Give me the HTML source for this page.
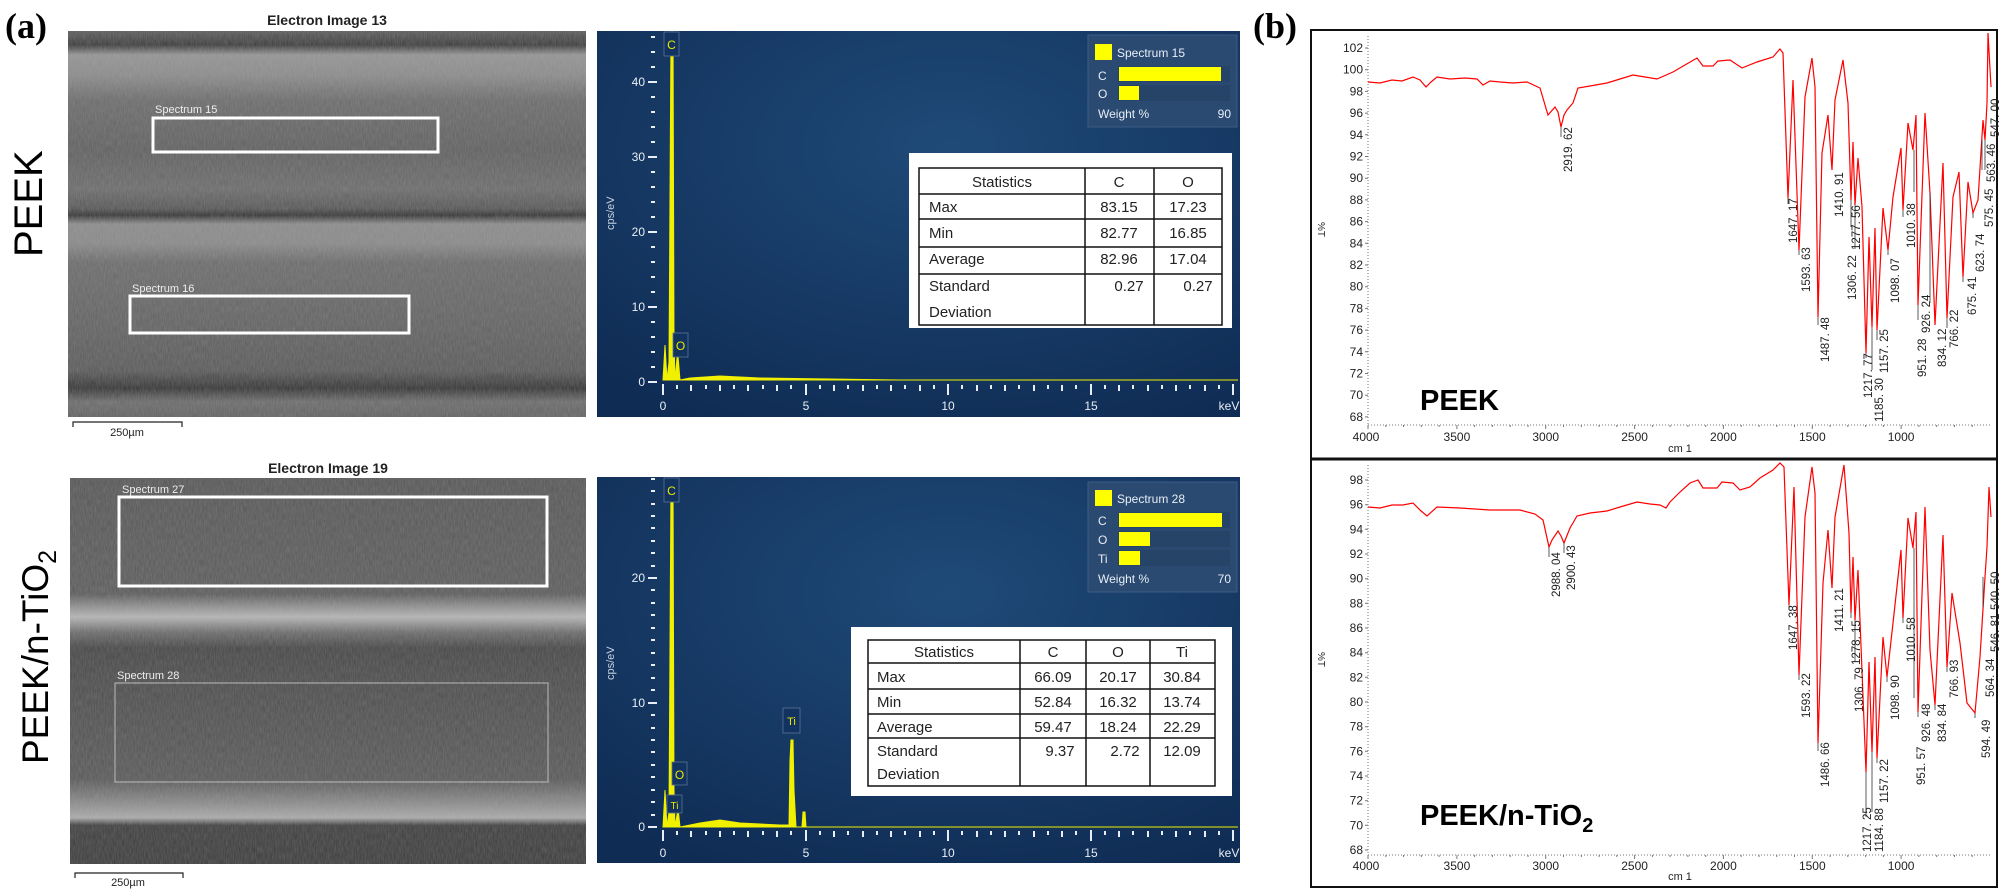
<!DOCTYPE html>
<html><head><meta charset="utf-8"><style>
html,body{margin:0;padding:0;background:#fff;}
svg{display:block;}
text{font-family:"Liberation Sans",sans-serif;}
</style></head><body>
<svg width="2000" height="892" viewBox="0 0 2000 892" xmlns="http://www.w3.org/2000/svg">
<defs>
<linearGradient id="sem1" x1="0" y1="0" x2="0" y2="1">
<stop offset="0" stop-color="#5a5a5a"/><stop offset="0.036" stop-color="#3a3a3a"/><stop offset="0.062" stop-color="#939393"/><stop offset="0.114" stop-color="#8a8a8a"/><stop offset="0.18" stop-color="#6a6a6a"/><stop offset="0.308" stop-color="#5e5e5e"/><stop offset="0.41" stop-color="#6a6a6a"/><stop offset="0.46" stop-color="#555"/><stop offset="0.477" stop-color="#333"/><stop offset="0.5" stop-color="#8a8a8a"/><stop offset="0.55" stop-color="#888"/><stop offset="0.6" stop-color="#6a6a6a"/><stop offset="0.77" stop-color="#606060"/><stop offset="0.88" stop-color="#585858"/><stop offset="0.925" stop-color="#333"/><stop offset="0.96" stop-color="#6a6a6a"/><stop offset="1" stop-color="#606060"/>
</linearGradient>
<linearGradient id="sem2" x1="0" y1="0" x2="0" y2="1">
<stop offset="0" stop-color="#555"/><stop offset="0.3" stop-color="#5a5a5a"/><stop offset="0.33" stop-color="#8a8a8a"/><stop offset="0.36" stop-color="#b5b5b5"/><stop offset="0.4" stop-color="#6a6a6a"/><stop offset="0.44" stop-color="#444"/><stop offset="0.52" stop-color="#4a4a4a"/><stop offset="0.78" stop-color="#575757"/><stop offset="0.84" stop-color="#888"/><stop offset="0.88" stop-color="#aaa"/><stop offset="0.9" stop-color="#3c3c3c"/><stop offset="1" stop-color="#3a3a3a"/>
</linearGradient>
<radialGradient id="eds" cx="0.55" cy="0.3" r="0.8">
<stop offset="0" stop-color="#1f4a78"/><stop offset="1" stop-color="#0f2c54"/>
</radialGradient>
<filter id="noise" x="0" y="0" width="1" height="1"><feTurbulence type="fractalNoise" baseFrequency="0.9 0.15" numOctaves="2" seed="3"/><feColorMatrix values="0 0 0 0 0.5  0 0 0 0 0.5  0 0 0 0 0.5  0 0 0 0.3 0"/></filter>
</defs>

<text x="5" y="38" font-weight="bold" font-size="36" style="font-family:'Liberation Serif',serif">(a)</text>
<text transform="translate(42,257) rotate(-90)" font-size="40">PEEK</text>
<text transform="translate(48,764) rotate(-90)" font-size="37">PEEK/n-TiO<tspan font-size="25" dy="8">2</tspan></text>

<!-- SEM 1 -->
<text x="327" y="25" font-size="14" font-weight="bold" text-anchor="middle" fill="#222">Electron Image 13</text>
<rect x="68" y="31" width="518" height="386" fill="url(#sem1)"/>
<rect x="68" y="31" width="518" height="386" fill="#000" filter="url(#noise)"/>
<rect x="153" y="118" width="285" height="34" fill="none" stroke="#fff" stroke-width="3"/>
<text x="155" y="113" font-size="11" fill="#eee">Spectrum 15</text>
<rect x="130" y="296" width="279" height="37" fill="none" stroke="#fff" stroke-width="3"/>
<text x="132" y="292" font-size="11" fill="#eee">Spectrum 16</text>
<path d="M73,427 V422 H182 V427" fill="none" stroke="#222" stroke-width="1.2"/>
<text x="127" y="436" font-size="11" text-anchor="middle" fill="#222">250µm</text>

<!-- SEM 2 -->
<text x="328" y="473" font-size="14" font-weight="bold" text-anchor="middle" fill="#222">Electron Image 19</text>
<rect x="70" y="478" width="516" height="386" fill="url(#sem2)"/>
<rect x="70" y="478" width="516" height="386" fill="#000" filter="url(#noise)"/>
<rect x="119" y="497" width="428" height="89" fill="none" stroke="#fff" stroke-width="3"/>
<text x="122" y="493" font-size="11" fill="#eee">Spectrum 27</text>
<rect x="115" y="683" width="433" height="99" fill="none" stroke="#bbb" stroke-width="1"/>
<text x="117" y="679" font-size="11" fill="#eee">Spectrum 28</text>
<path d="M75,878 V873 H183 V878" fill="none" stroke="#222" stroke-width="1.2"/>
<text x="128" y="886" font-size="11" text-anchor="middle" fill="#222">250µm</text>

<!-- EDS 1 -->
<rect x="597" y="31" width="643" height="386" fill="url(#eds)"/>
<text transform="translate(614,230) rotate(-90)" font-size="11" fill="#c8d4e4">cps/eV</text>
<g fill="#e8eef6" font-size="12" text-anchor="end">
<text x="645" y="86">40</text><text x="645" y="161">30</text><text x="645" y="236">20</text><text x="645" y="311">10</text><text x="645" y="386">0</text>
</g>
<g stroke="#e8eef6" stroke-width="2">
<path d="M648,82h9M648,157h9M648,232h9M648,307h9M648,382h9"/>
<path d="M651,37h4M651,52h4M651,67h4M651,97h4M651,112h4M651,127h4M651,142h4M651,172h4M651,187h4M651,202h4M651,217h4M651,247h4M651,262h4M651,277h4M651,292h4M651,322h4M651,337h4M651,352h4M651,367h4"/>
<path d="M663,384v11M806,384v11M948,384v11M1091,384v11M1233,384v11"/>
<path d="M677,385v4M691,385v6M706,385v4M720,385v6M734,385v4M748,385v6M763,385v4M777,385v6M791,385v4M820,385v4M834,385v6M848,385v4M863,385v6M877,385v4M891,385v6M905,385v4M920,385v6M934,385v4M962,385v4M977,385v6M991,385v4M1005,385v6M1019,385v4M1034,385v6M1048,385v4M1062,385v6M1076,385v4M1105,385v4M1119,385v6M1133,385v4M1148,385v6M1162,385v4M1176,385v6M1190,385v4M1205,385v6M1219,385v4"/>
</g>
<g fill="#e8eef6" font-size="12" text-anchor="middle">
<text x="663" y="410">0</text><text x="806" y="410">5</text><text x="948" y="410">10</text><text x="1091" y="410">15</text><text x="1229" y="410">keV</text>
</g>
<path d="M663,380 L665,345 L667,380 L669,362 L671,32 L673,32 L674,340 L675,380 L677,358 L678,356 L680,380 L690,378 L720,376 L760,378 L900,380 L1238,380 Z" fill="#f0f000" stroke="#f0f000" stroke-width="1"/>
<rect x="664" y="32" width="15" height="24" fill="#123260" stroke="#5a7494" stroke-width="0.8"/>
<text x="671.5" y="49" font-size="12" fill="#e8e800" text-anchor="middle">C</text>
<rect x="673" y="333" width="15" height="24" fill="#123260" stroke="#5a7494" stroke-width="0.8"/>
<text x="680.5" y="350" font-size="12" fill="#e8e800" text-anchor="middle">O</text>
<rect x="1088" y="35" width="149" height="92" fill="#2a4a72" stroke="#3d5c84"/>
<rect x="1095" y="44" width="17" height="16" fill="#ffff00"/>
<text x="1117" y="57" font-size="12" fill="#e8eef6">Spectrum 15</text>
<text x="1098" y="80" font-size="12" fill="#e8eef6">C</text>
<text x="1098" y="98" font-size="12" fill="#e8eef6">O</text>
<rect x="1118" y="66" width="112" height="16" fill="#254468"/><rect x="1118" y="85" width="112" height="16" fill="#254468"/>
<rect x="1119" y="67" width="102" height="14" fill="#ffff00"/>
<rect x="1119" y="86" width="20" height="14" fill="#ffff00"/>
<text x="1098" y="118" font-size="12" fill="#e8eef6">Weight %</text>
<text x="1231" y="118" font-size="12" fill="#e8eef6" text-anchor="end">90</text>
<rect x="909" y="153" width="323" height="175" fill="#fff"/>
<g fill="none" stroke="#111" stroke-width="1.5">
<rect x="919" y="168" width="303" height="157"/>
<path d="M919,194H1222M919,219H1222M919,247H1222M919,274H1222M1085,168V325M1154,168V325"/>
</g>
<g font-size="15" fill="#222">
<text x="1002" y="187" text-anchor="middle">Statistics</text><text x="1119" y="187" text-anchor="middle">C</text><text x="1188" y="187" text-anchor="middle">O</text>
<text x="929" y="212">Max</text><text x="1119" y="212" text-anchor="middle">83.15</text><text x="1188" y="212" text-anchor="middle">17.23</text>
<text x="929" y="238">Min</text><text x="1119" y="238" text-anchor="middle">82.77</text><text x="1188" y="238" text-anchor="middle">16.85</text>
<text x="929" y="264">Average</text><text x="1119" y="264" text-anchor="middle">82.96</text><text x="1188" y="264" text-anchor="middle">17.04</text>
<text x="929" y="291">Standard</text><text x="1129" y="291" text-anchor="middle">0.27</text><text x="1198" y="291" text-anchor="middle">0.27</text>
<text x="929" y="317">Deviation</text>
</g>

<!-- EDS 2 -->
<rect x="597" y="477" width="643" height="386" fill="url(#eds)"/>
<text transform="translate(614,680) rotate(-90)" font-size="11" fill="#c8d4e4">cps/eV</text>
<g fill="#e8eef6" font-size="12" text-anchor="end">
<text x="645" y="582">20</text><text x="645" y="707">10</text><text x="645" y="831">0</text>
</g>
<g stroke="#e8eef6" stroke-width="2">
<path d="M648,578h9M648,703h9M648,827h9"/>
<path d="M651,479h4M651,491h4M651,504h4M651,516h4M651,528h4M651,541h4M651,553h4M651,566h4M651,590h4M651,603h4M651,615h4M651,628h4M651,640h4M651,653h4M651,665h4M651,678h4M651,690h4M651,715h4M651,728h4M651,740h4M651,752h4M651,765h4M651,777h4M651,790h4M651,802h4M651,815h4"/>
<path d="M663,830v11M806,830v11M948,830v11M1091,830v11M1233,830v11"/>
<path d="M677,831v4M691,831v6M706,831v4M720,831v6M734,831v4M748,831v6M763,831v4M777,831v6M791,831v4M820,831v4M834,831v6M848,831v4M863,831v6M877,831v4M891,831v6M905,831v4M920,831v6M934,831v4M962,831v4M977,831v6M991,831v4M1005,831v6M1019,831v4M1034,831v6M1048,831v4M1062,831v6M1076,831v4M1105,831v4M1119,831v6M1133,831v4M1148,831v6M1162,831v4M1176,831v6M1190,831v4M1205,831v6M1219,831v4"/>
</g>
<g fill="#e8eef6" font-size="12" text-anchor="middle">
<text x="663" y="857">0</text><text x="806" y="857">5</text><text x="948" y="857">10</text><text x="1091" y="857">15</text><text x="1229" y="857">keV</text>
</g>
<path d="M663,827 L665,790 L667,827 L669,812 L671,480 L673,480 L674,790 L675,827 L677,815 L678,808 L680,827 L690,825 L700,823 L720,820 L740,823 L780,825 L789,825 L790,760 L791,740 L793,740 L794,790 L796,827 L802,827 L803,812 L805,812 L806,827 L900,827 L1238,827 Z" fill="#f0f000" stroke="#f0f000" stroke-width="1"/>
<rect x="664" y="478" width="15" height="24" fill="#123260" stroke="#5a7494" stroke-width="0.8"/>
<text x="671.5" y="495" font-size="12" fill="#e8e800" text-anchor="middle">C</text>
<rect x="672" y="762" width="15" height="23" fill="#123260" stroke="#5a7494" stroke-width="0.8"/>
<text x="679.5" y="779" font-size="12" fill="#e8e800" text-anchor="middle">O</text>
<rect x="667" y="795" width="15" height="18" fill="#123260" stroke="#5a7494" stroke-width="0.8"/>
<text x="674.5" y="809" font-size="10" fill="#e8e800" text-anchor="middle">Ti</text>
<rect x="783" y="708" width="17" height="25" fill="#123260" stroke="#5a7494" stroke-width="0.8"/>
<text x="791.5" y="725" font-size="11" fill="#e8e800" text-anchor="middle">Ti</text>
<rect x="1088" y="482" width="149" height="110" fill="#2a4a72" stroke="#3d5c84"/>
<rect x="1095" y="490" width="17" height="16" fill="#ffff00"/>
<text x="1117" y="503" font-size="12" fill="#e8eef6">Spectrum 28</text>
<text x="1098" y="525" font-size="12" fill="#e8eef6">C</text>
<text x="1098" y="544" font-size="12" fill="#e8eef6">O</text>
<text x="1098" y="563" font-size="12" fill="#e8eef6">Ti</text>
<rect x="1118" y="512" width="112" height="16" fill="#254468"/><rect x="1118" y="531" width="112" height="16" fill="#254468"/><rect x="1118" y="550" width="112" height="16" fill="#254468"/>
<rect x="1119" y="513" width="103" height="14" fill="#ffff00"/>
<rect x="1119" y="532" width="31" height="14" fill="#ffff00"/>
<rect x="1119" y="551" width="21" height="14" fill="#ffff00"/>
<text x="1098" y="583" font-size="12" fill="#e8eef6">Weight %</text>
<text x="1231" y="583" font-size="12" fill="#e8eef6" text-anchor="end">70</text>
<rect x="851" y="627" width="381" height="169" fill="#fff"/>
<g fill="none" stroke="#111" stroke-width="1.5">
<rect x="868" y="640" width="347" height="146"/>
<path d="M868,663H1215M868,689H1215M868,714H1215M868,738H1215M1020,640V786M1086,640V786M1150,640V786"/>
</g>
<g font-size="15" fill="#222">
<text x="944" y="657" text-anchor="middle">Statistics</text><text x="1053" y="657" text-anchor="middle">C</text><text x="1118" y="657" text-anchor="middle">O</text><text x="1182" y="657" text-anchor="middle">Ti</text>
<text x="877" y="682">Max</text><text x="1053" y="682" text-anchor="middle">66.09</text><text x="1118" y="682" text-anchor="middle">20.17</text><text x="1182" y="682" text-anchor="middle">30.84</text>
<text x="877" y="707">Min</text><text x="1053" y="707" text-anchor="middle">52.84</text><text x="1118" y="707" text-anchor="middle">16.32</text><text x="1182" y="707" text-anchor="middle">13.74</text>
<text x="877" y="732">Average</text><text x="1053" y="732" text-anchor="middle">59.47</text><text x="1118" y="732" text-anchor="middle">18.24</text><text x="1182" y="732" text-anchor="middle">22.29</text>
<text x="877" y="756">Standard</text><text x="1060" y="756" text-anchor="middle">9.37</text><text x="1125" y="756" text-anchor="middle">2.72</text><text x="1182" y="756" text-anchor="middle">12.09</text>
<text x="877" y="779">Deviation</text>
</g>

<!-- (b) -->
<text x="1253" y="38" font-weight="bold" font-size="36" style="font-family:'Liberation Serif',serif">(b)</text>
<rect x="1311" y="30" width="686" height="857" fill="#fff" stroke="#111" stroke-width="2"/>
<line x1="1311" y1="459" x2="1997" y2="459" stroke="#111" stroke-width="3"/>

<g stroke="#777" stroke-width="1">
<line x1="1368" y1="36" x2="1368" y2="425" stroke-dasharray="1,2"/>
<line x1="1368" y1="425" x2="1992" y2="425" stroke-dasharray="1,2"/>
<path d="M1365,48h3M1365,69.7h3M1365,91.4h3M1365,113.1h3M1365,134.8h3M1365,156.5h3M1365,178.2h3M1365,199.9h3M1365,221.6h3M1365,243.3h3M1365,265h3M1365,286.7h3M1365,308.4h3M1365,330.1h3M1365,351.8h3M1365,373.5h3M1365,395.2h3M1365,416.9h3"/>
<path d="M1368,425v4M1385.8,425v2M1403.5,425v2M1421.3,425v2M1439.1,425v2M1456.9,425v4M1474.6,425v2M1492.4,425v2M1510.2,425v2M1528,425v2M1545.7,425v4M1563.5,425v2M1581.3,425v2M1599.1,425v2M1616.8,425v2M1634.6,425v4M1652.4,425v2M1670.1,425v2M1687.9,425v2M1705.7,425v2M1723.4,425v4M1741.2,425v2M1759,425v2M1776.8,425v2M1794.5,425v2M1812.3,425v4M1830.1,425v2M1847.8,425v2M1865.6,425v2M1883.4,425v2M1901.1,425v4M1918.9,425v2M1936.7,425v2M1954.5,425v2M1972.2,425v2"/>
</g>
<g font-size="12" fill="#222" text-anchor="end">
<text x="1363" y="52">102</text><text x="1363" y="73.7">100</text><text x="1363" y="95.4">98</text><text x="1363" y="117.1">96</text><text x="1363" y="138.8">94</text><text x="1363" y="160.5">92</text><text x="1363" y="182.2">90</text><text x="1363" y="203.9">88</text><text x="1363" y="225.6">86</text><text x="1363" y="247.3">84</text><text x="1363" y="269">82</text><text x="1363" y="290.7">80</text><text x="1363" y="312.4">78</text><text x="1363" y="334.1">76</text><text x="1363" y="355.8">74</text><text x="1363" y="377.5">72</text><text x="1363" y="399.2">70</text><text x="1363" y="420.9">68</text>
</g>
<g font-size="12" fill="#222" text-anchor="middle">
<text x="1366" y="441">4000</text><text x="1456.9" y="441">3500</text><text x="1545.7" y="441">3000</text><text x="1634.6" y="441">2500</text><text x="1723.4" y="441">2000</text><text x="1812.3" y="441">1500</text><text x="1901.1" y="441">1000</text>
<text x="1680" y="452" font-size="11">cm 1</text>
</g>
<text transform="translate(1318,222) rotate(90)" font-size="10" fill="#222">%T</text>
<text x="1420" y="410" font-size="29" font-weight="bold" fill="#000">PEEK</text>
<polyline fill="none" stroke="#f00" stroke-width="1.2" points="1368,82 1380,83 1392,80 1402,81 1413,77 1420,80 1426,87 1431,82 1437,77 1450,79 1465,78 1477,79 1483,85 1490,81 1500,82 1513,83 1527,82 1540,88 1548,115 1555,107 1558,112 1561,127 1564,115 1567,110 1573,103 1578,88 1590,86 1607,83 1620,79 1633,75 1645,77 1657,79 1673,72 1685,65 1697,58 1703,66 1713,66 1718,61 1730,60 1736,64 1742,68 1757,62 1773,57 1779,50 1780,49 1783,53 1788,198 1793,80 1799,250 1805,97 1812,58 1815,87 1818,317 1822,153 1828,115 1832,170 1835,100 1843,60 1848,103 1851,200 1853,142 1855,205 1858,158 1862,207 1866,353 1869,237 1872,327 1875,228 1877,330 1883,208 1888,250 1893,197 1901,148 1903,210 1908,123 1913,150 1916,115 1918,305 1925,113 1930,193 1935,325 1943,163 1947,318 1953,197 1959,172 1963,277 1968,182 1973,213 1978,200 1983,120 1985,140 1987,103 1988,33 1991,87"/>
<g stroke="#333" stroke-width="0.8">
<path d="M1561,127v10M1788,198v6M1799,250v5M1818,317v8M1851,200v27M1855,205v44M1866,353v5M1872,327v43M1877,330v10M1888,250v5M1903,210v7M1914,150v42M1918,305v15M1930,193v110M1947,318v10M1963,277v5M1973,213v5M1982,140v30M1985,140v30"/>
</g>
<g font-size="11.5" fill="#222">
<text transform="translate(1572,172) rotate(-90)">2919. 62</text>
<text transform="translate(1797,243) rotate(-90)">1647. 17</text>
<text transform="translate(1810,292) rotate(-90)">1593. 63</text>
<text transform="translate(1829,362) rotate(-90)">1487. 48</text>
<text transform="translate(1843,217) rotate(-90)">1410. 91</text>
<text transform="translate(1860,250) rotate(-90)">1277. 56</text>
<text transform="translate(1856,300) rotate(-90)">1306. 22</text>
<text transform="translate(1872,398) rotate(-90)">1217. 77</text>
<text transform="translate(1883,422) rotate(-90)">1185. 30</text>
<text transform="translate(1888,373) rotate(-90)">1157. 25</text>
<text transform="translate(1899,303) rotate(-90)">1098. 07</text>
<text transform="translate(1915,248) rotate(-90)">1010. 38</text>
<text transform="translate(1926,377) rotate(-90)">951. 28</text>
<text transform="translate(1930,333) rotate(-90)">926. 24</text>
<text transform="translate(1946,367) rotate(-90)">834. 12</text>
<text transform="translate(1958,348) rotate(-90)">766. 22</text>
<text transform="translate(1976,315) rotate(-90)">675. 41</text>
<text transform="translate(1984,272) rotate(-90)">623. 74</text>
<text transform="translate(1993,227) rotate(-90)">575. 45</text>
<text transform="translate(1995,182) rotate(-90)">563. 46</text>
<text transform="translate(1999,137) rotate(-90)">547. 00</text>
</g>

<g stroke="#777" stroke-width="1">
<line x1="1368" y1="465" x2="1368" y2="855" stroke-dasharray="1,2"/>
<line x1="1368" y1="855" x2="1992" y2="855" stroke-dasharray="1,2"/>
<path d="M1365,480h3M1365,504.7h3M1365,529.3h3M1365,554h3M1365,578.7h3M1365,603.3h3M1365,628h3M1365,652.7h3M1365,677.3h3M1365,702h3M1365,726.7h3M1365,751.3h3M1365,776h3M1365,800.7h3M1365,825.3h3M1365,850h3"/>
<path d="M1368,855v4M1385.8,855v2M1403.5,855v2M1421.3,855v2M1439.1,855v2M1456.9,855v4M1474.6,855v2M1492.4,855v2M1510.2,855v2M1528,855v2M1545.7,855v4M1563.5,855v2M1581.3,855v2M1599.1,855v2M1616.8,855v2M1634.6,855v4M1652.4,855v2M1670.1,855v2M1687.9,855v2M1705.7,855v2M1723.4,855v4M1741.2,855v2M1759,855v2M1776.8,855v2M1794.5,855v2M1812.3,855v4M1830.1,855v2M1847.8,855v2M1865.6,855v2M1883.4,855v2M1901.1,855v4M1918.9,855v2M1936.7,855v2M1954.5,855v2M1972.2,855v2"/>
</g>
<g font-size="12" fill="#222" text-anchor="end">
<text x="1363" y="484">98</text><text x="1363" y="508.7">96</text><text x="1363" y="533.3">94</text><text x="1363" y="558">92</text><text x="1363" y="582.7">90</text><text x="1363" y="607.3">88</text><text x="1363" y="632">86</text><text x="1363" y="656.7">84</text><text x="1363" y="681.3">82</text><text x="1363" y="706">80</text><text x="1363" y="730.7">78</text><text x="1363" y="755.3">76</text><text x="1363" y="780">74</text><text x="1363" y="804.7">72</text><text x="1363" y="829.3">70</text><text x="1363" y="854">68</text>
</g>
<g font-size="12" fill="#222" text-anchor="middle">
<text x="1366" y="870">4000</text><text x="1456.9" y="870">3500</text><text x="1545.7" y="870">3000</text><text x="1634.6" y="870">2500</text><text x="1723.4" y="870">2000</text><text x="1812.3" y="870">1500</text><text x="1901.1" y="870">1000</text>
<text x="1680" y="880" font-size="11">cm 1</text>
</g>
<text transform="translate(1318,652) rotate(90)" font-size="10" fill="#222">%T</text>
<text x="1420" y="825" font-size="29" font-weight="bold" fill="#000">PEEK/n-TiO<tspan font-size="20" dy="7">2</tspan></text>
<polyline fill="none" stroke="#f00" stroke-width="1.2" points="1368,507 1380,508 1392,505 1403,505 1413,503 1420,510 1427,516 1437,507 1460,508 1490,510 1520,510 1535,514 1543,520 1549,547 1552,540 1558,531 1561,536 1564,543 1570,528 1577,516 1590,513 1607,511 1620,507 1637,502 1650,504 1660,505 1666,508 1670,502 1680,492 1690,483 1698,480 1703,488 1717,488 1722,482 1733,483 1740,490 1750,487 1760,478 1773,470 1780,463 1784,467 1789,605 1794,487 1799,675 1805,517 1812,467 1815,493 1818,743 1823,583 1828,530 1832,588 1835,517 1844,465 1849,533 1851,613 1853,557 1855,620 1858,570 1866,772 1869,662 1872,752 1875,657 1877,758 1883,637 1887,677 1893,623 1901,550 1903,618 1908,518 1913,548 1916,512 1918,712 1925,507 1930,650 1935,705 1943,535 1947,667 1952,593 1960,643 1967,703 1975,713 1980,657 1985,577 1987,547 1989,487 1991,517"/>
<g stroke="#333" stroke-width="0.8">
<path d="M1549,547v10M1564,543v10M1789,605v5M1799,675v5M1818,743v8M1851,613v5M1855,620v42M1866,772v45M1872,752v60M1877,758v5M1887,677v5M1903,618v5M1914,548v150M1918,712v5M1935,705v5M1947,667v5M1975,713v5M1983,577v30"/>
</g>
<g font-size="11.5" fill="#222">
<text transform="translate(1560,597) rotate(-90)">2988. 04</text>
<text transform="translate(1575,590) rotate(-90)">2900. 43</text>
<text transform="translate(1797,650) rotate(-90)">1647. 38</text>
<text transform="translate(1810,718) rotate(-90)">1593. 22</text>
<text transform="translate(1829,787) rotate(-90)">1486. 66</text>
<text transform="translate(1843,632) rotate(-90)">1411. 21</text>
<text transform="translate(1860,665) rotate(-90)">1278. 15</text>
<text transform="translate(1863,712) rotate(-90)">1306. 79</text>
<text transform="translate(1871,852) rotate(-90)">1217. 25</text>
<text transform="translate(1883,852) rotate(-90)">1184. 88</text>
<text transform="translate(1888,803) rotate(-90)">1157. 22</text>
<text transform="translate(1899,720) rotate(-90)">1098. 90</text>
<text transform="translate(1915,662) rotate(-90)">1010. 58</text>
<text transform="translate(1925,785) rotate(-90)">951. 57</text>
<text transform="translate(1930,742) rotate(-90)">926. 48</text>
<text transform="translate(1946,742) rotate(-90)">834. 84</text>
<text transform="translate(1958,698) rotate(-90)">766. 93</text>
<text transform="translate(1990,758) rotate(-90)">594. 49</text>
<text transform="translate(1994,697) rotate(-90)">564. 34</text>
<text transform="translate(1999,652) rotate(-90)">546. 81</text>
<text transform="translate(1999,610) rotate(-90)">540. 50</text>
</g>
</svg>
</body></html>
